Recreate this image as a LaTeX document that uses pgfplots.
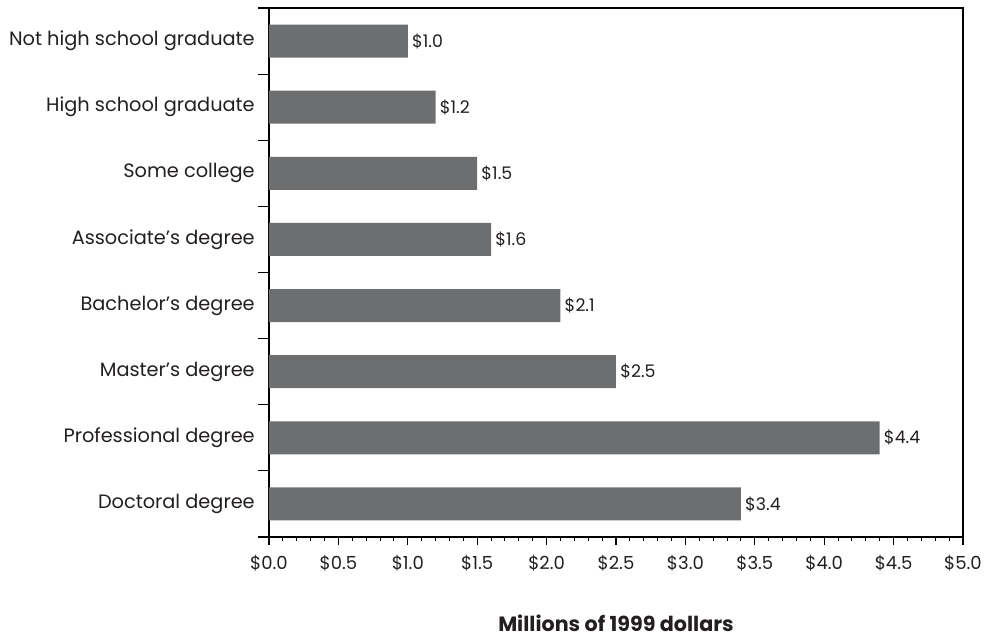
\documentclass[border=0pt]{standalone}
\usepackage{fontspec}
\setmainfont{Poppins}
\usepackage{pgfplots}
\pgfplotsset{compat=1.18}
\usetikzlibrary{calc}
\definecolor{barc}{RGB}{109,110,112}
\definecolor{txt}{RGB}{35,31,32}
\begin{document}
\begin{tikzpicture}
\begin{axis}[
  scale only axis,
  width=520.5pt, height=396.75pt,
  xbar, bar width=0.5,
  xmin=0, xmax=5,
  ymin=-0.5, ymax=7.5,
  y dir=reverse,
  axis line style={black, line width=0.9pt},
  /pgf/number format/assume math mode=true,
  font=\fontsize{13.5pt}{15pt}\selectfont,
  ytick={0,...,7},
  yticklabels={Not high school graduate,High school graduate,Some college,Associate’s degree,Bachelor’s degree,Master’s degree,Professional degree,Doctoral degree},
  y tick style={draw=none},
  extra y ticks={-0.5,0.5,1.5,2.5,3.5,4.5,5.5,6.5,7.5},
  extra y tick labels={},
  extra y tick style={major tick length=8.25pt, y tick style={draw=black, line width=0.8pt}},
  xtick={0,0.5,...,5},
  minor x tick num=4,
  tick align=outside,
  major tick length=6pt,
  minor tick length=3pt,
  x tick style={black, line width=0.8pt},
  xtick pos=bottom, ytick pos=left,
  yticklabel style={inner sep=0pt, xshift=-4.5pt, text=txt, font=\fontsize{14.5pt}{16pt}\selectfont},
  xticklabel style={inner sep=0pt, yshift=-7.5pt, text=txt},
  xticklabel={\$\pgfmathprintnumber[fixed,fixed zerofill,precision=1]{\tick}},
  nodes near coords={\$\pgfmathprintnumber[fixed,fixed zerofill,precision=1]{\pgfplotspointmeta}},
  every node near coord/.append style={anchor=west, inner sep=0pt, xshift=3pt, text=txt, font=\fontsize{13pt}{15pt}\selectfont},
  xlabel={\textbf{Millions of 1999 dollars}},
  xlabel style={at={(axis description cs:0.5,0)}, anchor=base, yshift=-70.5pt, text=txt, font=\fontsize{15.5pt}{17pt}\selectfont},
]
\addplot[fill=barc, draw=none] coordinates {
(1.0,0) (1.2,1) (1.5,2) (1.6,3) (2.1,4) (2.5,5) (4.4,6) (3.4,7)
};
\coordinate (sw) at (axis cs:0,7.5);
\end{axis}
\pgfresetboundingbox
\useasboundingbox ($(sw)+(-201.75pt,-75.75pt)$) rectangle ++(738.75pt,478.5pt);
\end{tikzpicture}
\end{document}
